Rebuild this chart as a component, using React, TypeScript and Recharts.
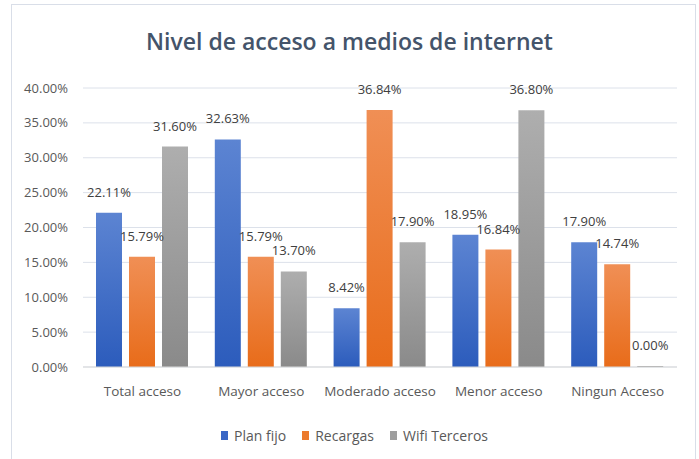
import React from 'react';
import { BarChart, Bar, XAxis, YAxis, CartesianGrid, LabelList, Legend } from 'recharts';

const categories = ['Total acceso', 'Mayor acceso', 'Moderado acceso', 'Menor acceso', 'Ningun Acceso'];
const planFijo = [22.11, 32.63, 8.42, 18.95, 17.9];
const recargas = [15.79, 15.79, 36.84, 16.84, 14.74];
const wifiTerceros = [31.6, 13.7, 17.9, 36.8, 0.0];
const yTicks = [0, 5, 10, 15, 20, 25, 30, 35, 40];

const data = categories.map((c, i) => ({
  name: c,
  plan: planFijo[i],
  rec: recargas[i],
  wifi: wifiTerceros[i],
}));

const FONT = "'Open Sans', sans-serif";
const fmt = (v: number) => `${Number(v).toFixed(2)}%`;

const legendItems = [
  { label: 'Plan fijo', color: '#3A67C6' },
  { label: 'Recargas', color: '#EC7A2C' },
  { label: 'Wifi Terceros', color: '#9E9E9E' },
];

const LegendContent = () => (
  <div style={{ display: 'flex', justifyContent: 'center', fontFamily: FONT, fontSize: 14, color: '#595959', paddingLeft: 32 }}>
    {legendItems.map((it) => (
      <div key={it.label} style={{ display: 'flex', alignItems: 'center', margin: '0 8px' }}>
        <span style={{ width: 7, height: 9, background: it.color, display: 'inline-block', marginRight: 6 }} />
        <span>{it.label}</span>
      </div>
    ))}
  </div>
);

const labelStyle = { fontFamily: FONT, fontSize: 13, fill: '#404040' };

export default function App() {
  return (
    <div style={{ position: 'absolute', left: 0, top: 0, width: 699, height: 459, background: '#fff' }}>
      <div style={{ position: 'absolute', left: 11, top: 4, width: 685, height: 460, borderLeft: '1px solid #D9DEE8', borderTop: '1px solid #D9DEE8', borderRight: '1px solid #D9DEE8', boxSizing: 'border-box' }} />
      <div style={{ position: 'absolute', left: 0, top: 25, width: 699, textAlign: 'center', fontFamily: FONT, fontSize: 23, fontWeight: 600, color: '#44546A' }}>
        Nivel de acceso a medios de internet
      </div>
      <div style={{ position: 'absolute', left: 0, top: 0 }}>
        <BarChart width={699} height={459} data={data} margin={{ top: 88, right: 22, bottom: 14, left: 0 }} barGap={7} barSize={26}>
          <defs>
            <linearGradient id="gBlue" x1="0" y1="0" x2="0" y2="1">
              <stop offset="0%" stopColor="#5C84D2" />
              <stop offset="100%" stopColor="#2C5CBC" />
            </linearGradient>
            <linearGradient id="gOrange" x1="0" y1="0" x2="0" y2="1">
              <stop offset="0%" stopColor="#F08F55" />
              <stop offset="100%" stopColor="#E86C1A" />
            </linearGradient>
            <linearGradient id="gGray" x1="0" y1="0" x2="0" y2="1">
              <stop offset="0%" stopColor="#AEAEAE" />
              <stop offset="100%" stopColor="#8A8A8A" />
            </linearGradient>
          </defs>
          <CartesianGrid vertical={false} stroke="#DCE1EA" />
          <XAxis dataKey="name" tickLine={false} axisLine={{ stroke: '#D9D9D9' }} tick={{ fontFamily: FONT, fontSize: 13.5, fill: '#595959' }} tickMargin={13} height={59} interval={0} />
          <YAxis domain={[0, 40]} ticks={yTicks} tickFormatter={fmt} tickLine={false} axisLine={false} width={83} tickMargin={9} tick={{ fontFamily: FONT, fontSize: 13, fill: '#595959' }} />
          <Legend verticalAlign="bottom" content={<LegendContent />} />
          <Bar dataKey="plan" fill="url(#gBlue)" isAnimationActive={false}>
            <LabelList dataKey="plan" position="top" offset={16} formatter={fmt} style={labelStyle} />
          </Bar>
          <Bar dataKey="rec" fill="url(#gOrange)" isAnimationActive={false}>
            <LabelList dataKey="rec" position="top" offset={16} formatter={fmt} style={labelStyle} />
          </Bar>
          <Bar dataKey="wifi" fill="url(#gGray)" isAnimationActive={false} minPointSize={1}>
            <LabelList dataKey="wifi" position="top" offset={16} formatter={fmt} style={labelStyle} />
          </Bar>
        </BarChart>
      </div>
    </div>
  );
}
